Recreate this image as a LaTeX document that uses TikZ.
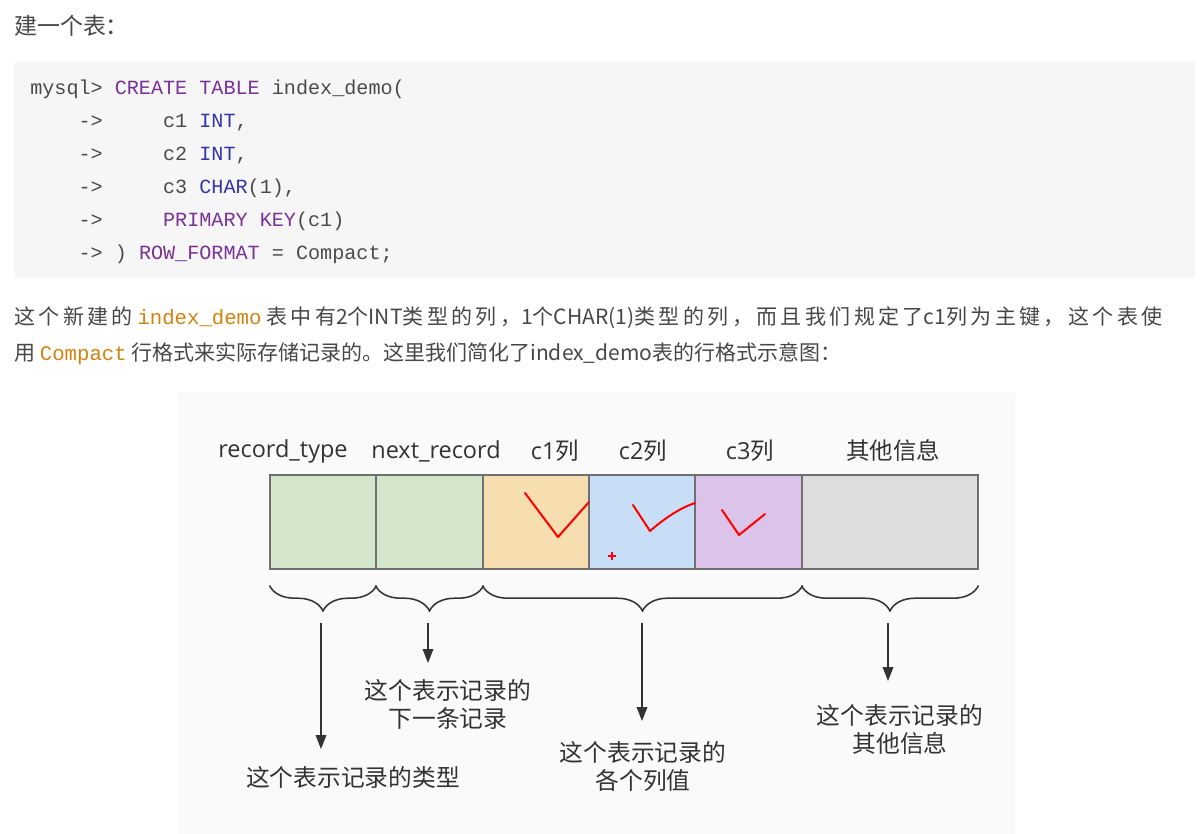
\documentclass[tikz,border=0pt]{standalone}
\usepackage{fontspec}
\setmainfont{Open Sans}
\setmonofont{Liberation Mono}
\newfontfamily\cjk{Noto Sans CJK SC}
\newfontfamily\cjkls[LetterSpace=16.2]{Noto Sans CJK SC}
\usetikzlibrary{decorations.pathreplacing,arrows.meta,calc}
\definecolor{txtgray}{HTML}{474747}
\definecolor{codegray}{HTML}{4A4A4A}
\definecolor{kwpurple}{HTML}{7A3296}
\definecolor{typeblue}{HTML}{3535A8}
\definecolor{codeorange}{HTML}{D4820F}
\definecolor{codebg}{HTML}{F6F6F6}
\definecolor{diagbg}{HTML}{FAFAFA}
\definecolor{cgreen}{HTML}{D3E6CC}
\definecolor{corange}{HTML}{F6DEB0}
\definecolor{cblue}{HTML}{C8DEF7}
\definecolor{cpurple}{HTML}{DCC3EA}
\definecolor{cgray}{HTML}{DDDDDD}
\definecolor{cellborder}{HTML}{707070}
\definecolor{labtext}{HTML}{333333}
\newcommand{\kw}[1]{\textcolor{kwpurple}{#1}}
\newcommand{\ty}[1]{\textcolor{typeblue}{#1}}
\newcommand{\ic}[1]{\hspace{3.5pt}{\ttfamily\fontsize{15.5}{18}\selectfont\textcolor{codeorange}{#1}}\hspace{3.5pt}}
\newcommand{\lat}[1]{{\cjk #1}}
\tikzset{
  codeline/.style={anchor=base west, inner sep=0pt, text=codegray,
    font=\ttfamily\fontsize{15.1}{18}\selectfont},
  paraline/.style={anchor=base west, inner sep=0pt, text=txtgray,
    font=\cjk\fontsize{15.75}{19}\selectfont},
  titleline/.style={anchor=base west, inner sep=0pt, text=txtgray,
    font=\cjk\fontsize{17.2}{20}\selectfont},
  header/.style={inner sep=0pt, text=labtext, font=\fontsize{17.6}{21}\selectfont},
  cell/.style={draw=cellborder, line width=0.8pt, minimum height=70.5pt, inner sep=0pt},
  bracestyle/.style={draw=labtext, line width=1.15pt,
    decorate, decoration={brace, mirror, amplitude=19pt, aspect=0.5}},
  arr/.style={draw=labtext, line width=1.1pt, -{Triangle[length=10.5pt,width=8pt]}},
  desc/.style={inner sep=0pt, align=center, text=labtext,
    font=\cjk\fontsize{17.8}{21}\selectfont},
  tick/.style={draw=red, line width=1.5pt, line join=round, line cap=round}
}
\begin{document}
\begin{tikzpicture}[x=0.75pt,y=-0.75pt]
\useasboundingbox (0,0) rectangle (1204,834);
\fill[white] (0,0) rectangle (1204,834);

% title
\node[titleline] (title) at (14,35) {建一个表：};

% code block
\fill[codebg] (14,62) rectangle (1195,278);
\node[codeline] (l1) at (30,94.5) {mysql>~\kw{CREATE}~\kw{TABLE}~index\_demo(};
\node[codeline] (l2) at (30,127.5) {~~~~->~~~~~c1~\ty{INT},};
\node[codeline] (l3) at (30,160.5) {~~~~->~~~~~c2~\ty{INT},};
\node[codeline] (l4) at (30,193.5) {~~~~->~~~~~c3~\ty{CHAR}(1),};
\node[codeline] (l5) at (30,226.5) {~~~~->~~~~~\kw{PRIMARY}~\kw{KEY}(c1)};
\node[codeline] (l6) at (30,259.5) {~~~~->~)~\kw{ROW\_FORMAT}~=~Compact;};

% paragraph
\node[paraline, font=\cjkls\fontsize{15.75}{19}\selectfont] (p1) at (14,325) {这个新建的\ic{index\_demo}表中有\lat{2}个\lat{INT}类型的列，\lat{1}个\lat{CHAR(1)}类型的列，而且我们规定了\lat{c1}列为主键，这个表使};
\node[paraline] (p2) at (14,361) {用\ic{Compact}行格式来实际存储记录的。这里我们简化了index\_demo表的行格式示意图：};

% diagram background
\fill[diagbg] (178,393) rectangle (1015,834);

% header labels
\node[header] (h1) at (283,451) {record\_type};
\node[header] (h2) at (436,451) {next\_record};
\node[header] (h3) at (555,451) {c1{\cjk 列}};
\node[header] (h4) at (643,451) {c2{\cjk 列}};
\node[header] (h5) at (750,451) {c3{\cjk 列}};
\node[header] (h6) at (893,451) {\cjk 其他信息};

% cells
\node[cell, fill=cgreen, minimum width=79.5pt] (rt) at (323,522) {};
\node[cell, fill=cgreen, minimum width=80.25pt] (nr) at (429.5,522) {};
\node[cell, fill=corange, minimum width=79.5pt] (c1) at (536,522) {};
\node[cell, fill=cblue, minimum width=79.5pt] (c2) at (642,522) {};
\node[cell, fill=cpurple, minimum width=80.25pt] (c3) at (748.5,522) {};
\node[cell, fill=cgray, minimum width=132pt] (oth) at (890,522) {};

% red scribbles
\draw[tick] (525,493) -- (558,537) -- (589,502);
\draw[tick] (633,505) -- (650,531) .. controls (665,518) and (680,508) .. (695,503);
\draw[tick] (722,510) -- (739,535) -- (765,514);
\draw[draw=red, line width=1.2pt] (608,556) -- (616,556) (612,552) -- (612,560);

% braces
\draw[bracestyle] ($(rt.south west)+(0,16)$) -- ($(rt.south east)+(0,16)$);
\draw[bracestyle] ($(nr.south west)+(0,16)$) -- ($(nr.south east)+(0,16)$);
\draw[bracestyle] ($(c1.south west)+(0,16)$) -- ($(c3.south east)+(0,16)$);
\draw[bracestyle] ($(oth.south west)+(0,16)$) -- ($(oth.south east)+(0,16)$);

% description labels
\node[desc] (d1) at (353,777) {这个表示记录的类型};
\node[desc] (d2) at (448,704) {这个表示记录的\\下一条记录};
\node[desc] (d3) at (643,766) {这个表示记录的\\各个列值};
\node[desc] (d4) at (900,729) {这个表示记录的\\其他信息};

% arrows
\coordinate (t1) at (321,623);
\coordinate (t2) at (428,623);
\coordinate (t3) at (642,623);
\coordinate (t4) at (888,623);
\coordinate (e1) at (321,749);
\coordinate (e2) at (428,663);
\coordinate (e3) at (642,721);
\coordinate (e4) at (888,681);
\draw[arr] (t1) -- (e1);
\draw[arr] (t2) -- (e2);
\draw[arr] (t3) -- (e3);
\draw[arr] (t4) -- (e4);
\end{tikzpicture}
\end{document}
